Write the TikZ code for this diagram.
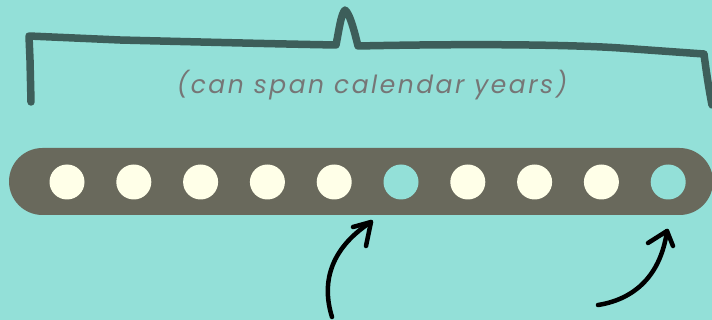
\documentclass[tikz,border=0pt]{standalone}
\usepackage{fontspec}
\newfontfamily\labelfont{Poppins}[LetterSpace=10]
\usetikzlibrary{arrows.meta}
\definecolor{bg}{HTML}{93E0D8}
\definecolor{bar}{HTML}{69695C}
\definecolor{dot}{HTML}{FFFFE8}
\definecolor{brace}{HTML}{3D5E5A}
\definecolor{txt}{HTML}{767676}
\tikzset{
  dotnode/.style={circle,fill=dot,minimum size=35pt,inner sep=0pt},
  gapnode/.style={circle,fill=bg,minimum size=35pt,inner sep=0pt},
  bracestroke/.style={draw=brace,line width=7.5pt,line join=round,line cap=round},
  pointer/.style={draw=black,line width=4.5pt,line cap=round,line join=round},
}
\begin{document}
\begin{tikzpicture}[x=1pt,y=-1pt]
\fill[bg] (0,0) rectangle (712,320);
\useasboundingbox (0,0) rectangle (712,320);
% bar
\node[fill=bar,rounded corners=33.5pt,minimum width=704pt,minimum height=67pt,inner sep=0pt] (bar) at (361,181.5) {};
% dots
\foreach \i/\s in {1/dotnode,2/dotnode,3/dotnode,4/dotnode,5/dotnode,6/gapnode,7/dotnode,8/dotnode,9/dotnode,10/gapnode}{
  \node[\s] (d\i) at ({67+(\i-1)*66.8},182) {};
}
% brace
\draw[bracestroke] (31,102) -- (30,60) -- (29,36) -- (120,40) .. controls (200,42) and (280,44) .. (336,45)
  .. controls (339,30) and (341,14) .. (345,10) .. controls (350,14) and (354,30) .. (358,46)
  .. controls (450,44) and (560,44) .. (620,48) -- (704,54) .. controls (706,70) and (709,90) .. (712,105);
\node[font=\labelfont\itshape\fontsize{25}{28}\selectfont,text=txt] (lbl) at (372,85) {(can span calendar years)};
% arrows
\coordinate (a1s) at (332,317);
\coordinate (a1t) at (371,222);
\coordinate (a2s) at (598,305);
\coordinate (a2t) at (667,231);
\draw[pointer] (a1s) .. controls (322,285) and (328,250) .. (a1t);
\draw[pointer] (353,227) -- (a1t) -- (366,246);
\draw[pointer] (a2s) .. controls (630,300) and (660,280) .. (a2t);
\draw[pointer] (648,243) -- (a2t) -- (673,246);
\end{tikzpicture}
\end{document}
